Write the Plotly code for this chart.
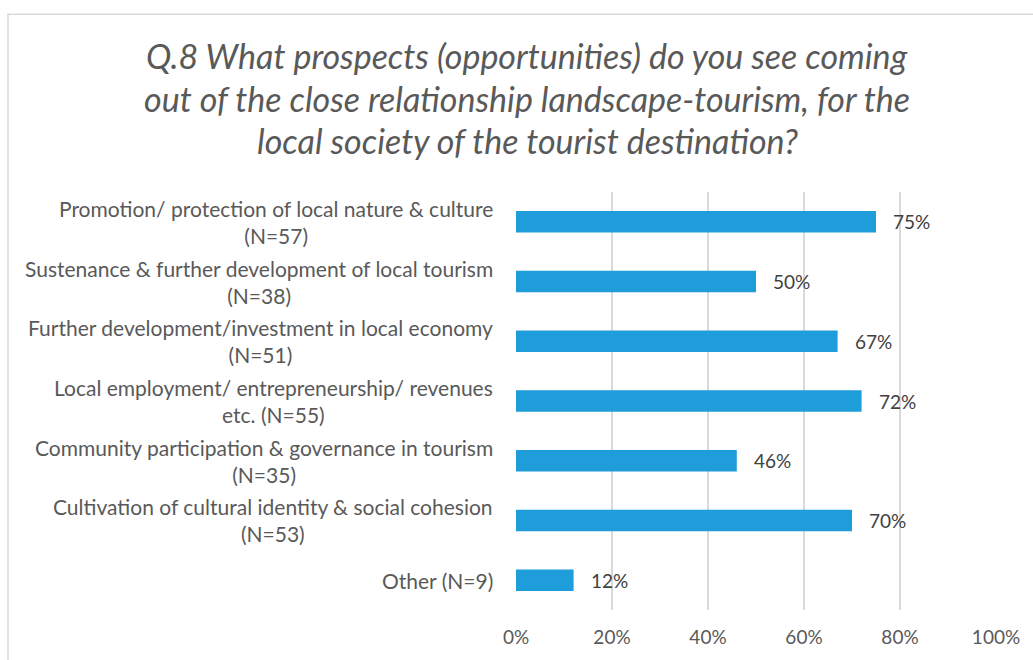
import plotly.graph_objects as go

# --- data -------------------------------------------------------------
categories = [
    "Promotion/ protection of local nature & culture<br>(N=57)",
    "Sustenance & further development of local tourism<br>(N=38)",
    "Further development/investment in local economy<br>(N=51)",
    "Local employment/ entrepreneurship/ revenues<br>etc. (N=55)",
    "Community participation & governance in tourism<br>(N=35)",
    "Cultivation of cultural identity & social cohesion<br>(N=53)",
    "Other (N=9)",
]
percent = [75, 50, 67, 72, 46, 70, 12]
x_ticks = [0, 20, 40, 60, 80, 100]
title_lines = [
    "Q.8 What prospects (opportunities) do you see coming",
    "out of the close relationship landscape-tourism, for the",
    "local society of the tourist destination?",
]

# --- layout geometry (pixels) ------------------------------------------
W, H = 1033, 660
ML, MR, MT, MB = 516, 37, 192, 47
PW, PH = W - ML - MR, H - MT - MB

def px_x(px):
    return (px - ML) / PW

def px_y(py):
    return 1 - (py - MT) / PH

FONT = "Lato"
BAR = "#1F9CDA"
GREY = "#595959"

fig = go.Figure(
    go.Bar(
        x=[v / 100 for v in percent],
        y=categories,
        orientation="h",
        width=0.36,
        marker=dict(color=BAR, line=dict(width=0)),
        hoverinfo="skip",
    )
)

annotations = []
# value labels just past the bar ends
for cat, v in zip(categories, percent):
    annotations.append(dict(
        x=v / 100, y=cat, xref="x", yref="y",
        text=f"{v}%", showarrow=False, xanchor="left", xshift=15,
        font=dict(family=FONT, size=19, color="#404040"),
    ))
# category labels, centred lines in a right-aligned block
for cat in categories:
    annotations.append(dict(
        x=0, y=cat, xref="paper", yref="y",
        text=cat, showarrow=False, xanchor="right", align="center",
        xshift=-21,
        font=dict(family=FONT, size=21, color=GREY),
    ))
# title lines
for line, cy in zip(title_lines, [55, 98, 140]):
    annotations.append(dict(
        x=px_x(527), y=px_y(cy), xref="paper", yref="paper",
        text=f"<i>{line}</i>", showarrow=False,
        xanchor="center", yanchor="middle",
        font=dict(family=FONT, size=34, color=GREY),
    ))

fig.update_layout(
    width=W, height=H,
    margin=dict(l=ML, r=MR, t=MT, b=MB, pad=0),
    paper_bgcolor="white", plot_bgcolor="white",
    showlegend=False,
    bargap=0.64,
    annotations=annotations,
    shapes=[dict(
        type="rect", xref="paper", yref="paper",
        x0=px_x(8), x1=px_x(1060), y0=px_y(13), y1=px_y(700),
        line=dict(color="#D9D9D9", width=1.5), layer="below",
    )],
    xaxis=dict(
        range=[0, 1], tickvals=[t / 100 for t in x_ticks],
        ticktext=[f"{t}%" for t in x_ticks],
        showgrid=True, gridcolor="#D9D9D9", gridwidth=1.5,
        zeroline=False, showline=False, ticks="",
        ticklabelstandoff=14,
        tickfont=dict(family=FONT, size=19, color=GREY),
        fixedrange=True,
    ),
    yaxis=dict(
        autorange="reversed", showticklabels=False, showgrid=False,
        zeroline=False, showline=False, ticks="", fixedrange=True,
    ),
)

fig.write_html("out.html")
